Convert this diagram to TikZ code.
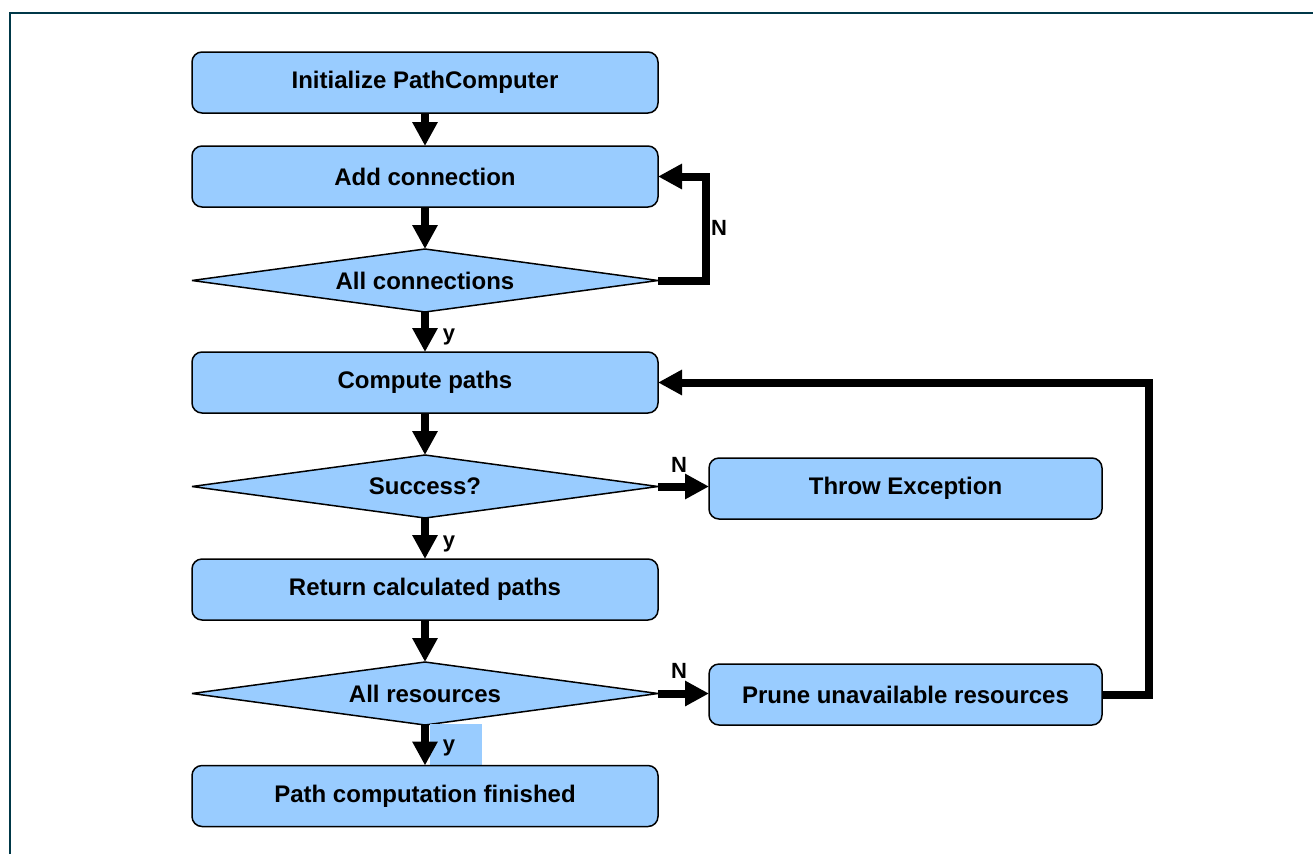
\documentclass[tikz,border=0pt]{standalone}
\usepackage{fontspec}
\setmainfont{Liberation Sans}
\usetikzlibrary{shapes.geometric,arrows.meta}
\definecolor{boxblue}{RGB}{153,204,255}
\definecolor{frameteal}{RGB}{0,56,72}
\begin{document}
\begin{tikzpicture}[x=1pt,y=-1pt,
  every node/.style={font=\fontsize{24}{28}\selectfont\bfseries},
  stepbox/.style={draw=black, line width=1.5pt, fill=boxblue, rounded corners=10pt,
    minimum width=466pt, minimum height=61pt, inner sep=0pt, outer sep=0pt},
  sidebox/.style={stepbox, minimum width=393pt},
  test/.style={draw=black, line width=1.5pt, line join=bevel, fill=boxblue, diamond, aspect=7.4,
    minimum width=466pt, minimum height=63pt, inner sep=0pt, outer sep=0pt},
  flow/.style={line width=8pt, -{Triangle[width=24pt,length=24pt]}},
  lbl/.style={inner sep=0pt, font=\fontsize{22}{26}\selectfont\bfseries}
]
\useasboundingbox (0,0) rectangle (1313,854);

% page frame
\draw[frameteal, line width=1.5pt] (10,854) -- (10,13) -- (1313,13);

% main column
\node[stepbox] (init) at (425,82.5)  {Initialize PathComputer};
\node[stepbox] (add)  at (425,176.5) {Add connection};
\node[test]    (allc) at (425,280.5) {All connections};
\node[stepbox] (comp) at (425,382.5) {Compute paths};
\node[test]    (succ) at (425,486.5) {Success?};
\node[stepbox] (ret)  at (425,589.5) {Return calculated paths};
\node[test]    (allr) at (425,693.5) {All resources};
\node[fill=boxblue, minimum width=52pt, minimum height=42pt, inner sep=0pt] (ybg) at (456,745) {};
\node[stepbox] (done) at (425,796)   {Path computation finished};

% side column
\node[sidebox] (throw) at (905.5,488.5) {Throw Exception};
\node[sidebox] (prune) at (905.5,694.5) {Prune unavailable resources};

% connectors
\draw[flow] (init.south) -- (add.north);
\draw[flow] (add.south)  -- (allc.north);
\draw[flow] (allc.south) -- (comp.north);
\draw[flow] (comp.south) -- (succ.north);
\draw[flow] (succ.south) -- (ret.north);
\draw[flow] (ret.south)  -- (allr.north);
\draw[flow] (allr.south) -- (done.north);
\draw[flow] (succ.east) -- (succ.east -| throw.west);
\draw[flow] (allr.east) -- (allr.east -| prune.west);
\draw[flow] (allc.east) -- ++(48,0) |- (add.east);
\draw[flow] (prune.east) -- ++(47,0) |- (comp.east);

% branch labels
\node[lbl] at (449,337) {y};
\node[lbl] at (449,544) {y};
\node[lbl] at (449,748) {y};
\node[lbl] at (719,228) {N};
\node[lbl] at (679,465) {N};
\node[lbl] at (679,671) {N};
\end{tikzpicture}
\end{document}
